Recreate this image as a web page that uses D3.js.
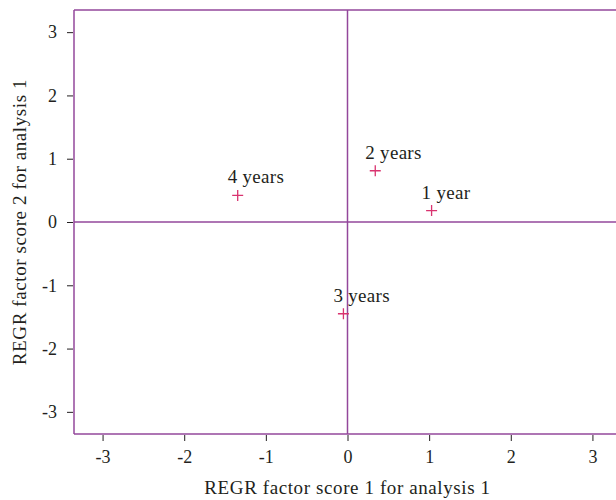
<!DOCTYPE html>
<html>
<head>
<meta charset="utf-8">
<script src="https://cdn.jsdelivr.net/npm/d3@7"></script>
<style>
  body { margin: 0; background: #fff; }
  svg { display: block; }
  text { font-family: 'Liberation Serif', 'Times New Roman', serif; fill: #231f20; }
</style>
</head>
<body>
<svg id="chart" width="616" height="500"></svg>
<script>
const labels = ['1 year', '2 years', '3 years', '4 years'];
const score1 = [1.03, 0.34, -0.05, -1.345];
const score2 = [0.18, 0.81, -1.45, 0.42];
const ticks = [-3, -2, -1, 0, 1, 2, 3];

const W = 616, H = 500;
const margin = { top: 10, right: -5, bottom: 66, left: 74 };
const lineColor = '#93479b';
const markColor = '#d9336f';

const svg = d3.select('#chart');
const iw = W - margin.left - margin.right;
const ih = H - margin.top - margin.bottom;

const x = d3.scaleLinear().domain([-3.35, 3.35]).range([0, iw]);
const y = d3.scaleLinear().domain([-3.35, 3.35]).range([ih, 0]);

const g = svg.append('g').attr('transform', `translate(${margin.left},${margin.top})`);

// axes (plain hyphen for negatives, like the original)
const fmt = d => String(d);
const xAxis = g.append('g').attr('transform', `translate(0,${ih})`)
  .call(d3.axisBottom(x).tickValues(ticks).tickSize(6).tickPadding(10).tickFormat(fmt));
const yAxis = g.append('g')
  .call(d3.axisLeft(y).tickValues(ticks).tickSize(6).tickPadding(11).tickFormat(fmt));
[xAxis, yAxis].forEach(a => {
  a.select('.domain').remove();
  a.selectAll('.tick line').attr('stroke', '#231f20').attr('stroke-width', 1)
    .attr('transform', a === xAxis ? 'translate(0,1)' : 'translate(-1,0)');
  a.selectAll('.tick text').style('font-family', "'Liberation Serif', serif")
    .style('font-size', '18px').attr('fill', '#231f20');
});

// frame (left, top, bottom)
g.append('line').attr('x1', 0).attr('x2', iw + 10).attr('y1', 0).attr('y2', 0)
  .attr('stroke', lineColor).attr('stroke-width', 1.5);
g.append('line').attr('x1', 0).attr('x2', iw + 10).attr('y1', ih).attr('y2', ih)
  .attr('stroke', lineColor).attr('stroke-width', 1.5);
g.append('line').attr('x1', 0).attr('x2', 0).attr('y1', 0).attr('y2', ih)
  .attr('stroke', lineColor).attr('stroke-width', 1.5);

// zero lines
g.append('line').attr('x1', 0).attr('x2', iw + 10).attr('y1', y(0)).attr('y2', y(0))
  .attr('stroke', lineColor).attr('stroke-width', 1.5);
g.append('line').attr('x1', x(0)).attr('x2', x(0)).attr('y1', 0).attr('y2', ih)
  .attr('stroke', lineColor).attr('stroke-width', 1.5);

// points
const pts = labels.map((l, i) => ({ label: l, a: score1[i], b: score2[i] }));
const pg = g.selectAll('.pt').data(pts).enter().append('g')
  .attr('transform', d => `translate(${x(d.a)},${y(d.b)})`);
pg.append('path').attr('d', 'M-5.5,0H5.5M0,-5.5V5.5')
  .attr('stroke', markColor).attr('stroke-width', 1.3).attr('fill', 'none');
pg.append('text').attr('x', -10).attr('y', -12)
  .style('font-size', '19px').style('letter-spacing', '0.3px').text(d => d.label);

// axis titles
svg.append('text').attr('x', margin.left + x(0)).attr('y', 494)
  .attr('text-anchor', 'middle').style('font-size', '19px').style('letter-spacing', '0.6px')
  .text('REGR factor score 1 for analysis 1');
svg.append('text').attr('transform', `translate(26,${margin.top + y(0)}) rotate(-90)`)
  .attr('text-anchor', 'middle').style('font-size', '19px').style('letter-spacing', '0.6px')
  .text('REGR factor score 2 for analysis 1');
</script>
</body>
</html>
